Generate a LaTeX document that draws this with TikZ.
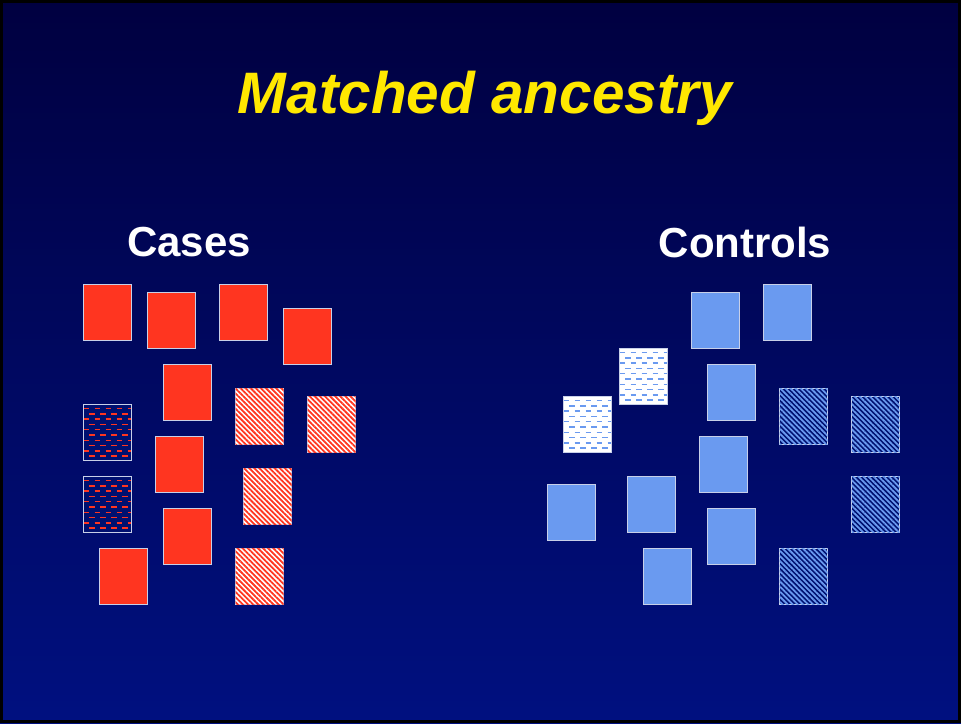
\documentclass[tikz,border=0pt]{standalone}
\usepackage{fontspec}
\setmainfont{Liberation Sans}
\usetikzlibrary{patterns.meta}
\definecolor{bgtop}{HTML}{000040}
\definecolor{bgbot}{HTML}{001080}
\definecolor{casered}{HTML}{FF3520}
\definecolor{ctrlblue}{HTML}{6A9AF0}
\definecolor{edgec}{HTML}{C8D0E8}
\definecolor{navyfill}{HTML}{001070}
\definecolor{titley}{HTML}{FFE800}
\tikzset{
  sq/.style={draw=edgec, line width=1pt, minimum width=48pt, minimum height=56pt, anchor=north west, inner sep=0pt},
  redsq/.style={sq, fill=casered},
  bluesq/.style={sq, fill=ctrlblue},
  redhatch/.style={sq, fill=white, postaction={pattern={Lines[angle=-45,distance=3.6pt,line width=1.8pt]}, pattern color=casered}},
  bluehatch/.style={sq, fill=navyfill, postaction={pattern={Lines[angle=-45,distance=3.6pt,line width=1.8pt]}, pattern color=ctrlblue}},
  reddash/.style={sq, fill=navyfill, path picture={
    \foreach \r in {0,...,10}{
      \pgfmathsetmacro{\ph}{mod(\r,2)*5.5}
      \draw[casered, line width=1.5pt, dash pattern=on 5.5pt off 5.5pt, dash phase=\ph pt]
        ([yshift=-4pt-\r*5.3pt]path picture bounding box.north west) -- ([yshift=-4pt-\r*5.3pt]path picture bounding box.north east);
    }}},
  bluedash/.style={sq, fill=white, path picture={
    \foreach \r in {0,...,10}{
      \pgfmathsetmacro{\ph}{mod(\r,2)*5.5}
      \draw[ctrlblue, line width=1.5pt, dash pattern=on 5.5pt off 5.5pt, dash phase=\ph pt]
        ([yshift=-4pt-\r*5.3pt]path picture bounding box.north west) -- ([yshift=-4pt-\r*5.3pt]path picture bounding box.north east);
    }}},
  lbl/.style={text=white, font=\bfseries\fontsize{42}{48}\selectfont},
}
\begin{document}
\begin{tikzpicture}[x=1pt,y=-1pt]
\useasboundingbox (0,0) rectangle (961,723);
\shade[top color=bgtop, bottom color=bgbot] (0,0) rectangle (961,723);
\draw[black, line width=3pt] (1.5,1.5) rectangle (959.5,721.5);
\node[text=titley, font=\bfseries\itshape\fontsize{58.5}{66}\selectfont] (title) at (485,98) {Matched ancestry};
\node[lbl] (cases) at (189,242) {Cases};
\node[lbl] (controls) at (745,242) {Controls};
% Cases
\node[redsq] (a1) at (83,284) {};
\node[redsq] (a2) at (147,292) {};
\node[redsq] (a3) at (219,284) {};
\node[redsq] (a4) at (283,308) {};
\node[redsq] (a5) at (163,364) {};
\node[redhatch] (a6) at (235,388) {};
\node[redhatch] (a7) at (307,396) {};
\node[reddash] (a8) at (83,404) {};
\node[redsq] (a9) at (155,436) {};
\node[redhatch] (a10) at (243,468) {};
\node[reddash] (a11) at (83,476) {};
\node[redsq] (a12) at (163,508) {};
\node[redsq] (a13) at (99,548) {};
\node[redhatch] (a14) at (235,548) {};
% Controls
\node[bluesq] (b1) at (691,292) {};
\node[bluesq] (b2) at (763,284) {};
\node[bluedash] (b3) at (619,348) {};
\node[bluesq] (b4) at (707,364) {};
\node[bluehatch] (b5) at (779,388) {};
\node[bluehatch] (b6) at (851,396) {};
\node[bluedash] (b7) at (563,396) {};
\node[bluesq] (b8) at (699,436) {};
\node[bluesq] (b9) at (547,484) {};
\node[bluesq] (b10) at (627,476) {};
\node[bluehatch] (b11) at (851,476) {};
\node[bluesq] (b12) at (707,508) {};
\node[bluesq] (b13) at (643,548) {};
\node[bluehatch] (b14) at (779,548) {};
\end{tikzpicture}
\end{document}
